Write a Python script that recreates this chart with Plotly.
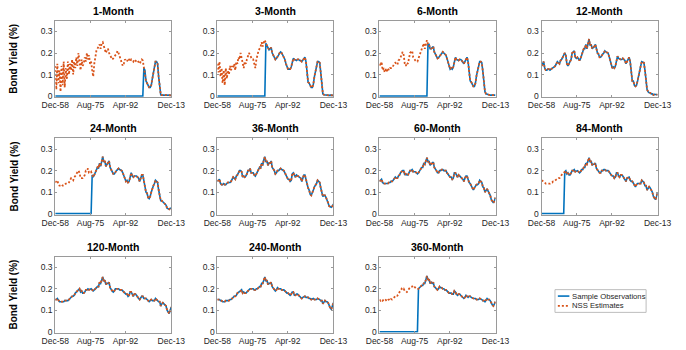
import plotly.graph_objects as go

# Maturities shown, one panel each
MATURITIES = ["1-Month", "3-Month", "6-Month", "12-Month", "24-Month", "36-Month",
              "60-Month", "84-Month", "120-Month", "240-Month", "360-Month"]

# Semi-annual sample dates, Dec-58 .. Dec-13, as month numbers (Dec-58 = 1)
MONTHS = list(range(1, 662, 6))
TICK_MONTHS = [1, 201, 401, 661]
TICK_LABELS = ["Dec-58", "Aug-75", "Apr-92", "Dec-13"]
Y_TICKS = [0, 0.1, 0.2, 0.3]
Y_TICK_LABELS = ["0", "0.1", "0.2", "0.3"]

# NSS fitted yields per maturity (one value per half year)
nss_1m = [0.14, 0.03, 0.15, 0.06, 0.12, 0.02, 0.14, 0.05, 0.16, 0.04,
          0.13, 0.08, 0.16, 0.10, 0.15, 0.12, 0.17, 0.10, 0.16, 0.13,
          0.18, 0.14, 0.20, 0.16, 0.12, 0.17, 0.14, 0.15, 0.18, 0.16,
          0.20, 0.17, 0.19, 0.15, 0.16, 0.12, 0.09, 0.15, 0.19, 0.21,
          0.22, 0.235, 0.24, 0.22, 0.245, 0.25, 0.23, 0.22, 0.20, 0.215,
          0.22, 0.20, 0.19, 0.18, 0.17, 0.175, 0.185, 0.19, 0.195, 0.21,
          0.20, 0.18, 0.17, 0.155, 0.14, 0.15, 0.17, 0.165, 0.16, 0.175,
          0.17, 0.16, 0.17, 0.165, 0.16, 0.17, 0.165, 0.16, 0.165, 0.16,
          0.15, 0.16, 0.17, 0.165, 0.13, 0.12, 0.07, 0.06, 0.045, 0.04,
          0.04, 0.05, 0.08, 0.11, 0.14, 0.16, 0.16, 0.15, 0.09, 0.04,
          0.005, 0.004, 0.006, 0.005, 0.004, 0.006, 0.005, 0.004, 0.003, 0.004,
          0.003]
nss_3m = [0.15, 0.11, 0.16, 0.09, 0.13, 0.06, 0.12, 0.05, 0.13, 0.08,
          0.12, 0.10, 0.14, 0.12, 0.14, 0.13, 0.15, 0.12, 0.16, 0.15,
          0.18, 0.17, 0.20, 0.18, 0.15, 0.13, 0.16, 0.15, 0.17, 0.19,
          0.20, 0.19, 0.18, 0.17, 0.17, 0.15, 0.13, 0.17, 0.20, 0.21,
          0.22, 0.23, 0.25, 0.23, 0.25, 0.26, 0.245, 0.235, 0.22, 0.215,
          0.22, 0.225, 0.20, 0.19, 0.185, 0.17, 0.175, 0.18, 0.19, 0.20,
          0.205, 0.20, 0.19, 0.18, 0.17, 0.15, 0.135, 0.125, 0.125, 0.125,
          0.135, 0.16, 0.175, 0.17, 0.165, 0.165, 0.17, 0.17, 0.165, 0.165,
          0.16, 0.165, 0.175, 0.18, 0.16, 0.11, 0.065, 0.06, 0.05, 0.04,
          0.04, 0.055, 0.09, 0.12, 0.145, 0.16, 0.16, 0.155, 0.11, 0.06,
          0.01, 0.006, 0.005, 0.007, 0.006, 0.004, 0.003, 0.004, 0.004, 0.003,
          0.003]
nss_6m = [0.15, 0.14, 0.16, 0.12, 0.13, 0.11, 0.125, 0.115, 0.13, 0.12,
          0.13, 0.13, 0.14, 0.14, 0.15, 0.155, 0.15, 0.145, 0.165, 0.17,
          0.18, 0.19, 0.205, 0.19, 0.15, 0.14, 0.155, 0.15, 0.17, 0.20,
          0.205, 0.21, 0.18, 0.17, 0.165, 0.16, 0.16, 0.175, 0.19, 0.20,
          0.22, 0.225, 0.245, 0.22, 0.25, 0.26, 0.24, 0.24, 0.22, 0.22,
          0.225, 0.23, 0.205, 0.195, 0.19, 0.175, 0.178, 0.185, 0.19, 0.20,
          0.205, 0.20, 0.195, 0.19, 0.175, 0.155, 0.135, 0.125, 0.13, 0.125,
          0.135, 0.165, 0.18, 0.17, 0.165, 0.165, 0.17, 0.17, 0.165, 0.16,
          0.15, 0.16, 0.175, 0.18, 0.16, 0.11, 0.07, 0.065, 0.05, 0.045,
          0.045, 0.06, 0.095, 0.12, 0.145, 0.16, 0.16, 0.155, 0.115, 0.065,
          0.02, 0.01, 0.008, 0.008, 0.006, 0.004, 0.004, 0.005, 0.005, 0.004,
          0.004]
nss_12m = [0.14, 0.15, 0.16, 0.13, 0.12, 0.12, 0.125, 0.125, 0.12, 0.125,
           0.13, 0.135, 0.135, 0.14, 0.15, 0.16, 0.155, 0.15, 0.165, 0.17,
           0.18, 0.19, 0.20, 0.19, 0.15, 0.14, 0.15, 0.155, 0.17, 0.20,
           0.205, 0.21, 0.18, 0.175, 0.18, 0.17, 0.165, 0.175, 0.19, 0.20,
           0.22, 0.22, 0.24, 0.22, 0.25, 0.265, 0.235, 0.24, 0.22, 0.225,
           0.23, 0.24, 0.21, 0.20, 0.195, 0.18, 0.18, 0.19, 0.195, 0.20,
           0.21, 0.205, 0.20, 0.20, 0.185, 0.165, 0.14, 0.13, 0.135, 0.13,
           0.14, 0.165, 0.185, 0.175, 0.17, 0.17, 0.17, 0.175, 0.17, 0.165,
           0.15, 0.16, 0.175, 0.18, 0.16, 0.11, 0.07, 0.07, 0.05, 0.045,
           0.05, 0.07, 0.10, 0.12, 0.14, 0.16, 0.155, 0.155, 0.12, 0.07,
           0.03, 0.02, 0.015, 0.015, 0.01, 0.01, 0.005, 0.008, 0.008, 0.006,
           0.006]
nss_24m = [0.145, 0.15, 0.155, 0.135, 0.13, 0.13, 0.135, 0.13, 0.13, 0.135,
           0.14, 0.14, 0.14, 0.145, 0.155, 0.165, 0.16, 0.155, 0.17, 0.175,
           0.185, 0.195, 0.20, 0.19, 0.165, 0.165, 0.165, 0.17, 0.18, 0.20,
           0.20, 0.21, 0.19, 0.19, 0.195, 0.18, 0.17, 0.18, 0.195, 0.20,
           0.215, 0.21, 0.235, 0.22, 0.25, 0.265, 0.24, 0.245, 0.22, 0.23,
           0.235, 0.245, 0.215, 0.205, 0.20, 0.185, 0.185, 0.195, 0.20, 0.205,
           0.21, 0.205, 0.20, 0.20, 0.19, 0.175, 0.155, 0.15, 0.155, 0.145,
           0.15, 0.18, 0.19, 0.175, 0.17, 0.175, 0.175, 0.175, 0.17, 0.165,
           0.15, 0.165, 0.18, 0.18, 0.155, 0.12, 0.10, 0.095, 0.075, 0.07,
           0.08, 0.10, 0.12, 0.13, 0.14, 0.155, 0.15, 0.145, 0.11, 0.08,
           0.06, 0.06, 0.055, 0.05, 0.045, 0.04, 0.025, 0.02, 0.02, 0.025,
           0.025]
nss_36m = [0.15, 0.155, 0.16, 0.14, 0.135, 0.135, 0.14, 0.135, 0.135, 0.14,
           0.145, 0.145, 0.145, 0.15, 0.16, 0.17, 0.165, 0.16, 0.175, 0.18,
           0.19, 0.20, 0.20, 0.195, 0.17, 0.175, 0.17, 0.175, 0.185, 0.20,
           0.20, 0.21, 0.19, 0.19, 0.19, 0.18, 0.175, 0.185, 0.20, 0.205,
           0.215, 0.21, 0.235, 0.225, 0.25, 0.265, 0.24, 0.245, 0.225, 0.235,
           0.235, 0.245, 0.215, 0.21, 0.20, 0.185, 0.19, 0.20, 0.20, 0.205,
           0.21, 0.205, 0.20, 0.20, 0.19, 0.18, 0.165, 0.16, 0.16, 0.15,
           0.155, 0.185, 0.19, 0.175, 0.17, 0.18, 0.175, 0.175, 0.17, 0.165,
           0.15, 0.165, 0.18, 0.18, 0.155, 0.13, 0.12, 0.11, 0.09, 0.085,
           0.095, 0.11, 0.125, 0.13, 0.14, 0.155, 0.15, 0.145, 0.12, 0.10,
           0.08, 0.085, 0.085, 0.075, 0.065, 0.05, 0.035, 0.03, 0.03, 0.035,
           0.045]
nss_60m = [0.15, 0.155, 0.16, 0.145, 0.14, 0.14, 0.14, 0.14, 0.14, 0.145,
           0.145, 0.15, 0.15, 0.155, 0.16, 0.17, 0.165, 0.165, 0.175, 0.18,
           0.19, 0.195, 0.20, 0.20, 0.18, 0.185, 0.18, 0.18, 0.19, 0.20,
           0.20, 0.205, 0.195, 0.195, 0.195, 0.19, 0.185, 0.19, 0.20, 0.205,
           0.215, 0.215, 0.235, 0.23, 0.25, 0.26, 0.24, 0.245, 0.225, 0.23,
           0.235, 0.24, 0.215, 0.21, 0.20, 0.19, 0.19, 0.20, 0.20, 0.205,
           0.205, 0.20, 0.20, 0.20, 0.19, 0.185, 0.175, 0.17, 0.17, 0.16,
           0.165, 0.19, 0.19, 0.175, 0.17, 0.18, 0.175, 0.175, 0.165, 0.16,
           0.15, 0.165, 0.175, 0.175, 0.155, 0.145, 0.14, 0.13, 0.115, 0.11,
           0.12, 0.13, 0.135, 0.135, 0.14, 0.155, 0.15, 0.145, 0.125, 0.12,
           0.10, 0.11, 0.115, 0.105, 0.095, 0.085, 0.065, 0.055, 0.05, 0.06,
           0.075]
nss_84m = [0.155, 0.15, 0.15, 0.145, 0.14, 0.14, 0.14, 0.14, 0.14, 0.145,
           0.145, 0.15, 0.15, 0.155, 0.16, 0.165, 0.165, 0.165, 0.175, 0.18,
           0.185, 0.19, 0.195, 0.20, 0.185, 0.19, 0.18, 0.18, 0.19, 0.20,
           0.20, 0.205, 0.195, 0.20, 0.20, 0.195, 0.19, 0.195, 0.205, 0.205,
           0.215, 0.215, 0.235, 0.23, 0.25, 0.26, 0.24, 0.245, 0.225, 0.23,
           0.23, 0.235, 0.21, 0.205, 0.195, 0.19, 0.19, 0.20, 0.20, 0.205,
           0.205, 0.20, 0.20, 0.20, 0.195, 0.19, 0.18, 0.175, 0.175, 0.165,
           0.17, 0.19, 0.19, 0.175, 0.17, 0.18, 0.18, 0.175, 0.165, 0.16,
           0.15, 0.165, 0.17, 0.17, 0.155, 0.15, 0.15, 0.14, 0.13, 0.125,
           0.135, 0.14, 0.14, 0.14, 0.14, 0.155, 0.15, 0.145, 0.13, 0.13,
           0.11, 0.12, 0.125, 0.12, 0.11, 0.10, 0.08, 0.07, 0.065, 0.08,
           0.10]
nss_120m = [0.15, 0.15, 0.155, 0.145, 0.14, 0.14, 0.14, 0.14, 0.14, 0.145,
            0.145, 0.145, 0.145, 0.15, 0.155, 0.16, 0.165, 0.165, 0.17, 0.18,
            0.185, 0.19, 0.195, 0.20, 0.185, 0.19, 0.18, 0.18, 0.185, 0.195,
            0.195, 0.20, 0.195, 0.20, 0.20, 0.195, 0.19, 0.195, 0.20, 0.205,
            0.21, 0.21, 0.23, 0.225, 0.245, 0.255, 0.235, 0.24, 0.22, 0.225,
            0.225, 0.23, 0.205, 0.20, 0.19, 0.185, 0.19, 0.20, 0.20, 0.20,
            0.20, 0.195, 0.195, 0.195, 0.19, 0.185, 0.18, 0.175, 0.175, 0.165,
            0.17, 0.185, 0.185, 0.17, 0.165, 0.175, 0.175, 0.17, 0.16, 0.155,
            0.15, 0.16, 0.165, 0.165, 0.155, 0.155, 0.155, 0.15, 0.145, 0.14,
            0.145, 0.15, 0.145, 0.145, 0.145, 0.155, 0.15, 0.145, 0.14, 0.14,
            0.12, 0.13, 0.135, 0.13, 0.125, 0.12, 0.10, 0.09, 0.085, 0.10,
            0.115]
nss_240m = [0.15, 0.15, 0.15, 0.145, 0.145, 0.14, 0.14, 0.14, 0.145, 0.145,
            0.145, 0.145, 0.15, 0.15, 0.155, 0.16, 0.165, 0.165, 0.17, 0.18,
            0.185, 0.19, 0.19, 0.195, 0.18, 0.185, 0.18, 0.18, 0.185, 0.195,
            0.195, 0.20, 0.20, 0.20, 0.20, 0.195, 0.195, 0.20, 0.20, 0.205,
            0.21, 0.21, 0.225, 0.225, 0.245, 0.255, 0.235, 0.24, 0.22, 0.225,
            0.225, 0.23, 0.21, 0.205, 0.195, 0.19, 0.195, 0.205, 0.20, 0.20,
            0.20, 0.195, 0.195, 0.195, 0.19, 0.185, 0.18, 0.18, 0.175, 0.17,
            0.175, 0.185, 0.185, 0.17, 0.17, 0.175, 0.175, 0.17, 0.165, 0.16,
            0.155, 0.16, 0.165, 0.165, 0.16, 0.16, 0.16, 0.155, 0.155, 0.15,
            0.155, 0.155, 0.15, 0.15, 0.15, 0.155, 0.15, 0.15, 0.145, 0.145,
            0.13, 0.14, 0.145, 0.14, 0.14, 0.135, 0.12, 0.11, 0.105, 0.12,
            0.135]
nss_360m = [0.15, 0.145, 0.15, 0.145, 0.15, 0.145, 0.148, 0.142, 0.148, 0.15,
            0.145, 0.152, 0.15, 0.155, 0.16, 0.165, 0.17, 0.168, 0.18, 0.185,
            0.19, 0.20, 0.195, 0.20, 0.19, 0.19, 0.185, 0.19, 0.20, 0.205,
            0.21, 0.21, 0.215, 0.21, 0.205, 0.20, 0.20, 0.20, 0.205, 0.21,
            0.215, 0.215, 0.225, 0.225, 0.245, 0.26, 0.24, 0.245, 0.225, 0.23,
            0.225, 0.23, 0.21, 0.205, 0.20, 0.195, 0.20, 0.21, 0.205, 0.205,
            0.20, 0.20, 0.195, 0.195, 0.19, 0.185, 0.18, 0.18, 0.18, 0.175,
            0.175, 0.19, 0.185, 0.175, 0.17, 0.175, 0.175, 0.17, 0.165, 0.16,
            0.155, 0.16, 0.17, 0.165, 0.16, 0.165, 0.165, 0.16, 0.155, 0.155,
            0.155, 0.155, 0.15, 0.15, 0.15, 0.155, 0.15, 0.15, 0.145, 0.145,
            0.14, 0.15, 0.155, 0.15, 0.15, 0.145, 0.13, 0.125, 0.12, 0.13,
            0.14]

NSS = [nss_1m, nss_3m, nss_6m, nss_12m, nss_24m, nss_36m,
       nss_60m, nss_84m, nss_120m, nss_240m, nss_360m]

# First half-year with an observed yield; earlier observations are recorded as 0
OBS_FIRST = [84, 46, 46, 0, 35, 0, 0, 22, 0, 0, 37]

BLUE = "#0072BD"
ORANGE = "#D95319"
AXIS_GRAY = "#9a9a9a"
TEXT = "#262626"
FONT = "Liberation Sans, Arial, Helvetica, sans-serif"

W, H = 686, 350
COL_LEFT = [43, 212, 381, 550]
ROW_TOP = [21, 140, 259.5]
AX_W, AX_H = 121, 77


def px_x(p):
    return p / W


def px_y(p):
    return (H - p) / H


fig = go.Figure()
annotations = []
layout_axes = {}

for i, (name, est, first) in enumerate(zip(MATURITIES, NSS, OBS_FIRST)):
    r, c = divmod(i, 4)
    n = i + 1
    xa, ya = ("x", "y") if n == 1 else (f"x{n}", f"y{n}")
    obs = [0.0] * first + est[first:]

    fig.add_trace(go.Scatter(
        x=MONTHS, y=obs, xaxis=xa, yaxis=ya, mode="lines",
        name="Sample Observations", showlegend=False,
        line=dict(color=BLUE, width=1.6)))
    fig.add_trace(go.Scatter(
        x=MONTHS, y=est, xaxis=xa, yaxis=ya, mode="lines",
        name="NSS Estimates", showlegend=False,
        line=dict(color=ORANGE, width=1.8, dash="2px,2px")))

    left, top = COL_LEFT[c], ROW_TOP[r]
    common = dict(showline=True, linecolor=AXIS_GRAY, linewidth=1, mirror="ticks",
                  ticks="inside", ticklen=2, tickcolor=AXIS_GRAY, tickwidth=1,
                  showgrid=False, zeroline=False, fixedrange=True,
                  tickfont=dict(family=FONT, size=8.5, color=TEXT))
    layout_axes["xaxis" if n == 1 else f"xaxis{n}"] = dict(
        domain=[px_x(left), px_x(left + AX_W)], anchor=ya,
        range=[1, 661], tickvals=TICK_MONTHS, ticktext=TICK_LABELS, **common)
    layout_axes["yaxis" if n == 1 else f"yaxis{n}"] = dict(
        domain=[px_y(top + AX_H), px_y(top)], anchor=xa,
        range=[-0.004, 0.35], tickvals=Y_TICKS, ticktext=Y_TICK_LABELS, **common)

    annotations.append(dict(
        text=f"<b>{name}</b>", x=px_x(left + AX_W / 2), y=px_y(top - 2),
        xref="paper", yref="paper", xanchor="center", yanchor="bottom",
        showarrow=False, font=dict(family=FONT, size=10.5, color="#000")))

# Y-axis label for the first column of each row
for r in range(3):
    annotations.append(dict(
        text="<b>Bond Yield (%)</b>", x=0, y=px_y(ROW_TOP[r] + AX_H / 2),
        xref="paper", yref="paper", xanchor="center", yanchor="middle",
        textangle=-90, showarrow=False,
        font=dict(family=FONT, size=10, color="#000")))

# Legend box in the empty twelfth slot
LEG_X0, LEG_X1, LEG_Y0, LEG_Y1 = 564, 659, 293, 316
shapes = [
    dict(type="rect", xref="paper", yref="paper",
         x0=px_x(LEG_X0), x1=px_x(LEG_X1), y0=px_y(LEG_Y1), y1=px_y(LEG_Y0),
         line=dict(color="#bdbdbd", width=1), fillcolor="white"),
    dict(type="line", xref="paper", yref="paper",
         x0=px_x(567), x1=px_x(579), y0=px_y(299.5), y1=px_y(299.5),
         line=dict(color=BLUE, width=1.6)),
    dict(type="line", xref="paper", yref="paper",
         x0=px_x(567), x1=px_x(579), y0=px_y(309.5), y1=px_y(309.5),
         line=dict(color=ORANGE, width=1.8, dash="2px,2px")),
]
for label, yp in (("Sample Observations", 299.5), ("NSS Estimates", 309.5)):
    annotations.append(dict(
        text=label, x=px_x(580), y=px_y(yp), xref="paper", yref="paper",
        xanchor="left", yanchor="middle", showarrow=False,
        font=dict(family=FONT, size=7.7, color=TEXT)))

fig.update_layout(
    width=W, height=H, margin=dict(l=0, r=0, t=0, b=0),
    paper_bgcolor="white", plot_bgcolor="white",
    showlegend=False, annotations=annotations, shapes=shapes,
    **layout_axes)

fig.write_html("out.html", config={"displayModeBar": False})
